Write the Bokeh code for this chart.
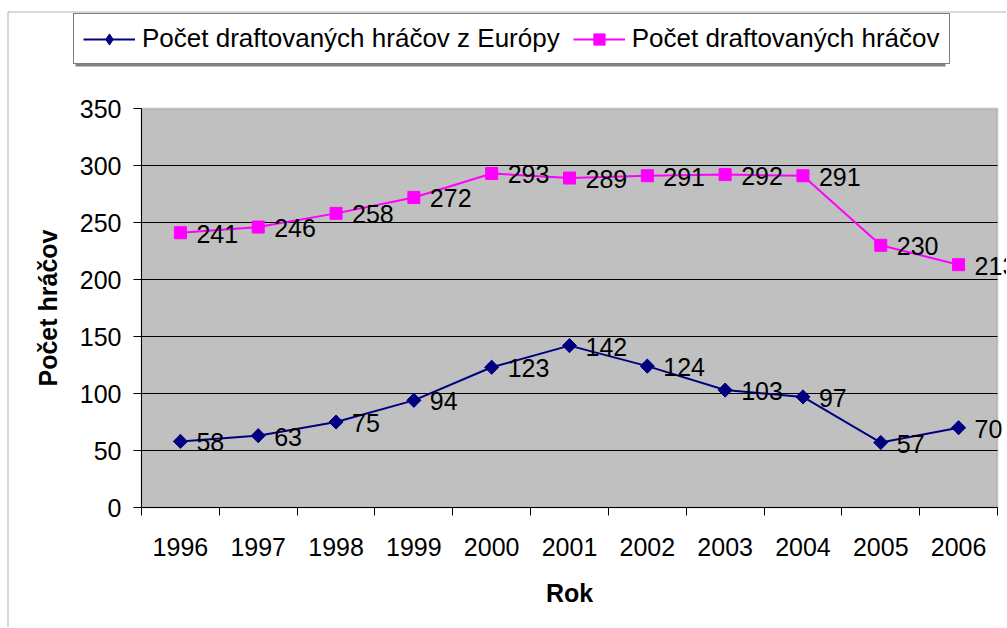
import math
from bokeh.plotting import figure
from bokeh.models import (Range1d, FixedTicker, Legend, LegendItem, ColumnDataSource,
                          LabelSet, BoxAnnotation)
from bokeh.core.properties import value
from bokeh.embed import file_html
from bokeh.resources import INLINE

years = [1996, 1997, 1998, 1999, 2000, 2001, 2002, 2003, 2004, 2005, 2006]
europe = [58, 63, 75, 94, 123, 142, 124, 103, 97, 57, 70]
total = [241, 246, 258, 272, 293, 289, 291, 292, 291, 230, 213]
y_ticks = [0, 50, 100, 150, 200, 250, 300, 350]
name_europe = "Počet draftovaných hráčov z Európy"
name_total = "Počet draftovaných hráčov"

FONT = "Liberation Sans"
FS = "25px"
NAVY = "#000080"
MAGENTA = "#FF00FF"

# canvas & plot-area geometry (pixels)
W, H = 1006, 627
PL, PR, PT, PB = 141, 997, 108, 507

x_lo, x_hi = years[0] - 0.5, years[-1] + 0.5
y_lo, y_hi = y_ticks[0], y_ticks[-1]
kx = (x_hi - x_lo) / (PR - PL)
ky = (y_hi - y_lo) / (PB - PT)


def px_to_x(px):
    return x_lo + (px - PL) * kx


def py_to_y(py):
    return y_lo + (PB - py) * ky


p = figure(width=W, height=H, output_backend="svg", toolbar_location=None,
           x_range=Range1d(px_to_x(0), px_to_x(W)),
           y_range=Range1d(py_to_y(H), py_to_y(0)),
           min_border=0, min_border_left=0, min_border_right=0,
           min_border_top=0, min_border_bottom=0)
p.background_fill_color = "white"
p.border_fill_color = "white"
p.outline_line_color = None
p.xgrid.visible = False
p.ygrid.visible = False

# plot area
p.add_layout(BoxAnnotation(left=x_lo, right=x_hi, bottom=y_lo, top=y_hi,
                           fill_color="#C0C0C0", fill_alpha=1,
                           line_color="#808080", line_width=2, level="image"))

# outer chart border
p.add_layout(BoxAnnotation(left=px_to_x(7.5), right=px_to_x(W + 50),
                           top=py_to_y(11.5), bottom=py_to_y(H + 50),
                           fill_alpha=0, line_color="black", line_width=1,
                           level="image"))

# legend shadow
p.add_layout(BoxAnnotation(left=px_to_x(75), right=px_to_x(945),
                           top=py_to_y(19), bottom=py_to_y(66),
                           fill_color="#808080", fill_alpha=1, line_color=None,
                           level="image"))

# horizontal grid lines
gy = y_ticks[1:-1]
p.segment(x0=[x_lo] * len(gy), x1=[x_hi] * len(gy), y0=gy, y1=gy,
          line_color="black", line_width=1)

# y axis
ya = p.yaxis[0]
ya.fixed_location = x_lo
ya.bounds = (y_lo, y_hi)
ya.ticker = FixedTicker(ticks=y_ticks)
ya.axis_line_color = "black"
ya.major_tick_out = 8
ya.major_tick_in = 0
ya.minor_tick_out = 0
ya.minor_tick_in = 0
ya.major_label_standoff = 12
ya.major_label_text_font = FONT
ya.major_label_text_font_size = FS
ya.major_label_text_color = "black"
ya.axis_label = "Počet hráčov"
ya.axis_label_text_font = FONT
ya.axis_label_text_font_size = FS
ya.axis_label_text_font_style = "bold"
ya.axis_label_text_color = "black"
ya.axis_label_standoff = 15

# x axis
xa = p.xaxis[0]
xa.fixed_location = y_lo
xa.bounds = (x_lo, x_hi)
xa.ticker = FixedTicker(ticks=years, minor_ticks=[y - 0.5 for y in years] + [x_hi])
xa.major_label_overrides = {y: str(y) for y in years}
xa.axis_line_color = "black"
xa.major_tick_out = 0
xa.major_tick_in = 0
xa.minor_tick_out = 8
xa.minor_tick_in = 0
xa.minor_tick_line_color = "black"
xa.major_label_standoff = 22
xa.major_label_text_font = FONT
xa.major_label_text_font_size = FS
xa.major_label_text_color = "black"
xa.axis_label = "Rok"
xa.axis_label_text_font = FONT
xa.axis_label_text_font_size = FS
xa.axis_label_text_font_style = "bold"
xa.axis_label_text_color = "black"
xa.axis_label_standoff = 20

src = ColumnDataSource(dict(x=years, eu=europe, tot=total,
                            eu_lbl=[str(v) for v in europe],
                            tot_lbl=[str(v) for v in total]))

l1 = p.line("x", "eu", source=src, line_color=NAVY, line_width=2)
# diamond marker (used by the legend, since legend markers are drawn unrotated);
# it sits fully inside the rotated square drawn on top of it
m1_leg = p.scatter("x", "eu", source=src, marker="diamond", size=13,
                   fill_color=NAVY, line_color=NAVY)
m1 = p.scatter("x", "eu", source=src, marker="square", angle=math.pi / 4, size=10,
               fill_color=NAVY, line_color=NAVY)
l2 = p.line("x", "tot", source=src, line_color=MAGENTA, line_width=2)
m2 = p.scatter("x", "tot", source=src, marker="square", size=12,
               fill_color=MAGENTA, line_color=MAGENTA)

for col, ycol in (("eu_lbl", "eu"), ("tot_lbl", "tot")):
    p.add_layout(LabelSet(x="x", y=ycol, text=col, source=src, x_offset=16, y_offset=-10,
                          text_font=value(FONT), text_font_size=value(FS), text_color="black",
                          text_baseline="alphabetic", text_align="left"))

legend = Legend(items=[LegendItem(label=name_europe, renderers=[l1, m1_leg]),
                       LegendItem(label=name_total, renderers=[l2, m2])],
                orientation="horizontal", location=(73, H - 64),
                label_text_font=FONT, label_text_font_size="26px", label_text_color="black",
                glyph_width=52, glyph_height=28, label_standoff=7, spacing=13,
                padding=9, margin=0, border_line_color="black", border_line_width=1,
                background_fill_color="white", background_fill_alpha=1)
p.add_layout(legend)

open("out.html", "w").write(file_html(p, INLINE))
